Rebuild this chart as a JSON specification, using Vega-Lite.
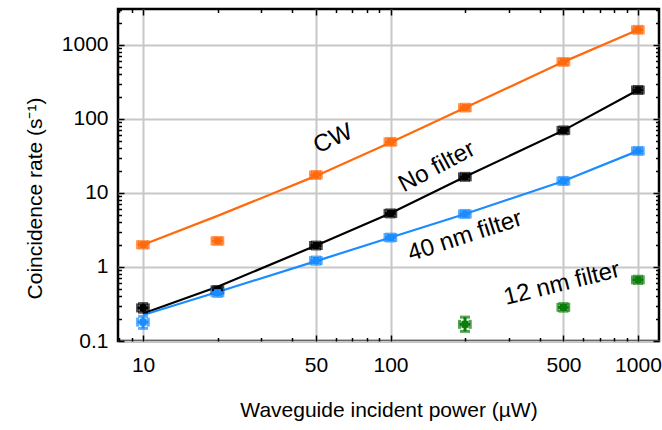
{
  "$schema": "https://vega.github.io/schema/vega-lite/v6.json",
  "width": 541,
  "height": 332,
  "autosize": "none",
  "padding": {"left": 118, "top": 9, "right": 3, "bottom": 89},
  "background": "white",
  "config": {
    "view": {"stroke": "black", "strokeWidth": 2.5},
    "font": "Liberation Sans",
    "axis": {
      "domain": false,
      "labelFont": "Liberation Sans",
      "labelFontSize": 21,
      "labelColor": "black",
      "titleFont": "Liberation Sans",
      "titleFontSize": 21,
      "titleFontWeight": "normal",
      "titleColor": "black",
      "tickColor": "black",
      "tickWidth": 1.5,
      "gridColor": "#c8c8c8",
      "gridWidth": 2,
      "gridOpacity": 1
    }
  },
  "datasets": {
    "pts": [
      {"series": "CW", "p": 10, "r": 2.0, "ylo": 1.8, "yhi": 2.2, "xlo": 9.5, "xhi": 10.5},
      {"series": "CW", "p": 20, "r": 2.25, "ylo": 2.02, "yhi": 2.5, "xlo": 19, "xhi": 21},
      {"series": "CW", "p": 50, "r": 17.5, "ylo": 15.7, "yhi": 19.5, "xlo": 47.5, "xhi": 52.5},
      {"series": "CW", "p": 100, "r": 49, "ylo": 44, "yhi": 54.5, "xlo": 95, "xhi": 105},
      {"series": "CW", "p": 200, "r": 142, "ylo": 128, "yhi": 158, "xlo": 190, "xhi": 210},
      {"series": "CW", "p": 500, "r": 590, "ylo": 530, "yhi": 655, "xlo": 475, "xhi": 525},
      {"series": "CW", "p": 1000, "r": 1600, "ylo": 1440, "yhi": 1780, "xlo": 950, "xhi": 1050},
      {"series": "No filter", "p": 10, "r": 0.28, "ylo": 0.245, "yhi": 0.32, "xlo": 9.5, "xhi": 10.5},
      {"series": "No filter", "p": 20, "r": 0.49, "ylo": 0.44, "yhi": 0.545, "xlo": 19, "xhi": 21},
      {"series": "No filter", "p": 50, "r": 1.95, "ylo": 1.75, "yhi": 2.17, "xlo": 47.5, "xhi": 52.5},
      {"series": "No filter", "p": 100, "r": 5.3, "ylo": 4.75, "yhi": 5.9, "xlo": 95, "xhi": 105},
      {"series": "No filter", "p": 200, "r": 16.5, "ylo": 14.8, "yhi": 18.4, "xlo": 190, "xhi": 210},
      {"series": "No filter", "p": 500, "r": 70, "ylo": 63, "yhi": 78, "xlo": 475, "xhi": 525},
      {"series": "No filter", "p": 1000, "r": 246, "ylo": 221, "yhi": 274, "xlo": 950, "xhi": 1050},
      {"series": "40 nm filter", "p": 10, "r": 0.18, "ylo": 0.148, "yhi": 0.215, "xlo": 9.5, "xhi": 10.5},
      {"series": "40 nm filter", "p": 20, "r": 0.45, "ylo": 0.4, "yhi": 0.505, "xlo": 19, "xhi": 21},
      {"series": "40 nm filter", "p": 50, "r": 1.22, "ylo": 1.09, "yhi": 1.36, "xlo": 47.5, "xhi": 52.5},
      {"series": "40 nm filter", "p": 100, "r": 2.5, "ylo": 2.24, "yhi": 2.78, "xlo": 95, "xhi": 105},
      {"series": "40 nm filter", "p": 200, "r": 5.2, "ylo": 4.67, "yhi": 5.8, "xlo": 190, "xhi": 210},
      {"series": "40 nm filter", "p": 500, "r": 14.5, "ylo": 13, "yhi": 16.2, "xlo": 475, "xhi": 525},
      {"series": "40 nm filter", "p": 1000, "r": 37, "ylo": 33.2, "yhi": 41.2, "xlo": 950, "xhi": 1050},
      {"series": "12 nm filter", "p": 200, "r": 0.168, "ylo": 0.135, "yhi": 0.21, "xlo": 190, "xhi": 210},
      {"series": "12 nm filter", "p": 500, "r": 0.285, "ylo": 0.253, "yhi": 0.32, "xlo": 475, "xhi": 525},
      {"series": "12 nm filter", "p": 1000, "r": 0.67, "ylo": 0.6, "yhi": 0.75, "xlo": 950, "xhi": 1050}
    ],
    "fits": [
      {"series": "CW", "p": 10, "r": 2.0},
      {"series": "CW", "p": 20, "r": 4.9},
      {"series": "CW", "p": 50, "r": 17},
      {"series": "CW", "p": 100, "r": 48},
      {"series": "CW", "p": 200, "r": 142},
      {"series": "CW", "p": 500, "r": 590},
      {"series": "CW", "p": 1000, "r": 1600},
      {"series": "No filter", "p": 10, "r": 0.235},
      {"series": "No filter", "p": 20, "r": 0.54},
      {"series": "No filter", "p": 50, "r": 1.95},
      {"series": "No filter", "p": 100, "r": 5.3},
      {"series": "No filter", "p": 200, "r": 16.5},
      {"series": "No filter", "p": 500, "r": 70},
      {"series": "No filter", "p": 1000, "r": 246},
      {"series": "40 nm filter", "p": 10, "r": 0.225},
      {"series": "40 nm filter", "p": 20, "r": 0.46},
      {"series": "40 nm filter", "p": 50, "r": 1.2},
      {"series": "40 nm filter", "p": 100, "r": 2.5},
      {"series": "40 nm filter", "p": 200, "r": 5.2},
      {"series": "40 nm filter", "p": 500, "r": 14.5},
      {"series": "40 nm filter", "p": 1000, "r": 37}
    ]
  },
  "resolve": {"axis": {"x": "independent", "y": "independent"}},
  "layer": [
    {
      "data": {"name": "fits"},
      "mark": {"type": "line", "strokeWidth": 2.2},
      "encoding": {
        "x": {"field": "p", "type": "quantitative", "scale": {"type": "log", "domain": [7.92, 1216], "nice": false},
          "axis": {"orient": "bottom", "values": [10, 50, 100, 500, 1000], "grid": true, "tickSize": -6, "labelPadding": 19, "title": "Waveguide incident power (µW)", "titlePadding": 24, "format": "d", "labelFlush": false}},
        "y": {"field": "r", "type": "quantitative", "scale": {"type": "log", "domain": [0.1, 3055], "nice": false},
          "axis": {"orient": "left", "values": [0.1, 1, 10, 100, 1000], "grid": true, "tickSize": -6, "labelPadding": 16, "title": "Coincidence rate (s⁻¹)", "titlePadding": 16, "titleY": 189, "format": "~g", "labelFlush": false}},
        "color": {"field": "series", "type": "nominal", "scale": {"domain": ["CW", "No filter", "40 nm filter", "12 nm filter"], "range": ["#ff6a0d", "#000000", "#1a8cff", "#0a7d0a"]}, "legend": null}
      }
    },
    {
      "data": {"name": "fits"},
      "mark": {"type": "point", "opacity": 0},
      "encoding": {
        "x": {"field": "p", "type": "quantitative", "scale": {"type": "log", "domain": [7.92, 1216], "nice": false},
          "axis": {"orient": "bottom", "values": [8, 9, 20, 30, 40, 60, 70, 80, 90, 200, 300, 400, 600, 700, 800, 900], "grid": false, "labels": false, "tickSize": -3.5, "title": null}},
        "y": {"field": "r", "type": "quantitative", "scale": {"type": "log", "domain": [0.1, 3055], "nice": false},
          "axis": {"orient": "left", "values": [0.2, 0.3, 0.4, 0.5, 0.6, 0.7, 0.8, 0.9, 2, 3, 4, 5, 6, 7, 8, 9, 20, 30, 40, 50, 60, 70, 80, 90, 200, 300, 400, 500, 600, 700, 800, 900, 2000, 3000], "grid": false, "labels": false, "tickSize": -3.5, "title": null}}
      }
    },
    {
      "data": {"name": "fits"},
      "mark": {"type": "point", "opacity": 0},
      "encoding": {
        "x": {"field": "p", "type": "quantitative", "scale": {"type": "log", "domain": [7.92, 1216], "nice": false},
          "axis": {"orient": "top", "values": [10, 50, 100, 500, 1000], "grid": false, "labels": false, "tickSize": -6, "title": null}},
        "y": {"field": "r", "type": "quantitative", "scale": {"type": "log", "domain": [0.1, 3055], "nice": false},
          "axis": {"orient": "right", "values": [0.1, 1, 10, 100, 1000], "grid": false, "labels": false, "tickSize": -6, "title": null}}
      }
    },
    {
      "data": {"name": "fits"},
      "mark": {"type": "point", "opacity": 0},
      "encoding": {
        "x": {"field": "p", "type": "quantitative", "scale": {"type": "log", "domain": [7.92, 1216], "nice": false},
          "axis": {"orient": "top", "values": [8, 9, 20, 30, 40, 60, 70, 80, 90, 200, 300, 400, 600, 700, 800, 900], "grid": false, "labels": false, "tickSize": -3.5, "title": null}},
        "y": {"field": "r", "type": "quantitative", "scale": {"type": "log", "domain": [0.1, 3055], "nice": false},
          "axis": {"orient": "right", "values": [0.2, 0.3, 0.4, 0.5, 0.6, 0.7, 0.8, 0.9, 2, 3, 4, 5, 6, 7, 8, 9, 20, 30, 40, 50, 60, 70, 80, 90, 200, 300, 400, 500, 600, 700, 800, 900, 2000, 3000], "grid": false, "labels": false, "tickSize": -3.5, "title": null}}
      }
    },
    {
      "data": {"name": "pts"},
      "mark": {"type": "errorbar", "ticks": {"size": 10, "thickness": 3}, "rule": {"strokeWidth": 3}},
      "encoding": {
        "x": {"field": "p", "type": "quantitative", "scale": {"type": "log", "domain": [7.92, 1216], "nice": false}, "axis": null},
        "y": {"field": "ylo", "type": "quantitative", "scale": {"type": "log", "domain": [0.1, 3055], "nice": false}, "axis": null},
        "y2": {"field": "yhi"},
        "color": {"field": "series", "type": "nominal", "scale": {"domain": ["CW", "No filter", "40 nm filter", "12 nm filter"], "range": ["#ff6a0d", "#000000", "#1a8cff", "#0a7d0a"]}, "legend": null}
      }
    },
    {
      "data": {"name": "pts"},
      "mark": {"type": "errorbar", "ticks": {"size": 9, "thickness": 3}, "rule": {"strokeWidth": 3}},
      "encoding": {
        "x": {"field": "xlo", "type": "quantitative", "scale": {"type": "log", "domain": [7.92, 1216], "nice": false}, "axis": null},
        "x2": {"field": "xhi"},
        "y": {"field": "r", "type": "quantitative", "scale": {"type": "log", "domain": [0.1, 3055], "nice": false}, "axis": null},
        "color": {"field": "series", "type": "nominal", "scale": {"domain": ["CW", "No filter", "40 nm filter", "12 nm filter"], "range": ["#ff6a0d", "#000000", "#1a8cff", "#0a7d0a"]}, "legend": null}
      }
    },
    {
      "data": {"name": "pts"},
      "mark": {"type": "square", "size": 50, "filled": true, "opacity": 1},
      "encoding": {
        "x": {"field": "p", "type": "quantitative", "scale": {"type": "log", "domain": [7.92, 1216], "nice": false}, "axis": null},
        "y": {"field": "r", "type": "quantitative", "scale": {"type": "log", "domain": [0.1, 3055], "nice": false}, "axis": null},
        "color": {"field": "series", "type": "nominal", "scale": {"domain": ["CW", "No filter", "40 nm filter", "12 nm filter"], "range": ["#ff6a0d", "#000000", "#1a8cff", "#0a7d0a"]}, "legend": null}
      }
    },
    {
      "data": {"values": [{"p": 58.6, "r": 53.8, "label": "CW"}]},
      "mark": {"type": "text", "angle": -24, "fontSize": 24, "font": "Liberation Sans", "color": "black", "align": "center", "baseline": "middle"},
      "encoding": {
        "x": {"field": "p", "type": "quantitative", "scale": {"type": "log", "domain": [7.92, 1216], "nice": false}, "axis": null},
        "y": {"field": "r", "type": "quantitative", "scale": {"type": "log", "domain": [0.1, 3055], "nice": false}, "axis": null},
        "text": {"field": "label"}
      }
    },
    {
      "data": {"values": [{"p": 154, "r": 22.4, "label": "No filter"}]},
      "mark": {"type": "text", "angle": -28, "fontSize": 24, "font": "Liberation Sans", "color": "black", "align": "center", "baseline": "middle"},
      "encoding": {
        "x": {"field": "p", "type": "quantitative", "scale": {"type": "log", "domain": [7.92, 1216], "nice": false}, "axis": null},
        "y": {"field": "r", "type": "quantitative", "scale": {"type": "log", "domain": [0.1, 3055], "nice": false}, "axis": null},
        "text": {"field": "label"}
      }
    },
    {
      "data": {"values": [{"p": 200, "r": 2.6, "label": "40 nm filter"}]},
      "mark": {"type": "text", "angle": -18, "fontSize": 24, "font": "Liberation Sans", "color": "black", "align": "center", "baseline": "middle"},
      "encoding": {
        "x": {"field": "p", "type": "quantitative", "scale": {"type": "log", "domain": [7.92, 1216], "nice": false}, "axis": null},
        "y": {"field": "r", "type": "quantitative", "scale": {"type": "log", "domain": [0.1, 3055], "nice": false}, "axis": null},
        "text": {"field": "label"}
      }
    },
    {
      "data": {"values": [{"p": 493, "r": 0.59, "label": "12 nm filter"}]},
      "mark": {"type": "text", "angle": -14, "fontSize": 24, "font": "Liberation Sans", "color": "black", "align": "center", "baseline": "middle"},
      "encoding": {
        "x": {"field": "p", "type": "quantitative", "scale": {"type": "log", "domain": [7.92, 1216], "nice": false}, "axis": null},
        "y": {"field": "r", "type": "quantitative", "scale": {"type": "log", "domain": [0.1, 3055], "nice": false}, "axis": null},
        "text": {"field": "label"}
      }
    }
  ]
}
